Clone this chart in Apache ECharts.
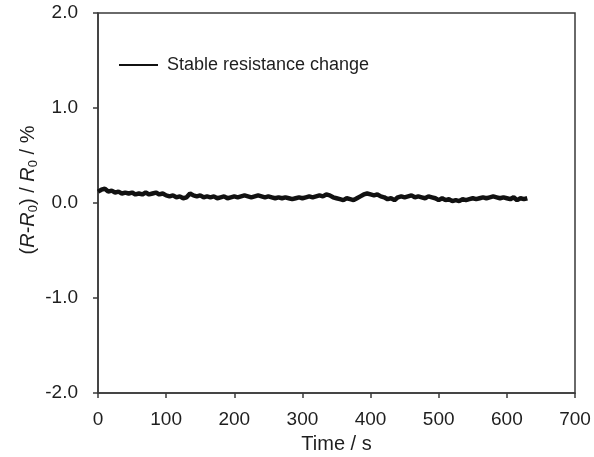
<!DOCTYPE html>
<html>
<head>
<meta charset="utf-8">
<style>
  html, body { margin: 0; padding: 0; background: #fff; }
  #chart { width: 594px; height: 457px; }
</style>
<script src="https://cdn.jsdelivr.net/npm/echarts@6/dist/echarts.min.js"></script>
</head>
<body>
<div id="chart"></div>
<script>
// time (s) and relative resistance change (%)
const times = [
  0, 5, 10, 15, 20, 25, 30, 35, 40, 45, 50, 55, 60, 65, 70, 75, 80, 85, 90, 95,
  100, 105, 110, 115, 120, 125, 130, 135, 140, 145, 150, 155, 160, 165, 170, 175, 180, 185, 190, 195,
  200, 205, 210, 215, 220, 225, 230, 235, 240, 245, 250, 255, 260, 265, 270, 275, 280, 285, 290, 295,
  300, 305, 310, 315, 320, 325, 330, 335, 340, 345, 350, 355, 360, 365, 370, 375, 380, 385, 390, 395,
  400, 405, 410, 415, 420, 425, 430, 435, 440, 445, 450, 455, 460, 465, 470, 475, 480, 485, 490, 495,
  500, 505, 510, 515, 520, 525, 530, 535, 540, 545, 550, 555, 560, 565, 570, 575, 580, 585, 590, 595,
  600, 605, 610, 615, 620, 625, 630
]
const resistanceChange = [
  0.12, 0.14, 0.15, 0.12, 0.13, 0.11, 0.12, 0.10, 0.11, 0.10, 0.11, 0.09, 0.10, 0.09, 0.11, 0.09, 0.10, 0.11, 0.09, 0.10,
  0.08, 0.07, 0.08, 0.06, 0.07, 0.05, 0.06, 0.10, 0.08, 0.07, 0.08, 0.06, 0.07, 0.06, 0.07, 0.05, 0.06, 0.07, 0.05, 0.06,
  0.07, 0.06, 0.07, 0.08, 0.07, 0.06, 0.07, 0.08, 0.07, 0.06, 0.07, 0.06, 0.05, 0.06, 0.05, 0.06, 0.05, 0.04, 0.05, 0.06,
  0.05, 0.06, 0.07, 0.06, 0.07, 0.08, 0.07, 0.09, 0.08, 0.06, 0.05, 0.04, 0.03, 0.05, 0.04, 0.03, 0.05, 0.07, 0.09, 0.10,
  0.09, 0.08, 0.09, 0.07, 0.06, 0.04, 0.05, 0.03, 0.06, 0.07, 0.06, 0.07, 0.08, 0.06, 0.07, 0.06, 0.05, 0.07, 0.06, 0.05,
  0.03, 0.05, 0.03, 0.04, 0.02, 0.03, 0.02, 0.04, 0.03, 0.04, 0.05, 0.04, 0.05, 0.06, 0.05, 0.06, 0.07, 0.06, 0.05, 0.06,
  0.05, 0.04, 0.06, 0.03, 0.05, 0.04, 0.05
]
const xTicks = [0, 700, 100]   // min, max, interval
const yTicks = [-2, 2, 1]

const font = 'Liberation Sans, Arial, sans-serif'
const axisColor = '#3a3a3a'
const textColor = '#1e1e1e'

const chart = echarts.init(document.getElementById('chart'))

const option = {
  animation: false,
  backgroundColor: '#fff',
  grid: {
    left: 98, right: 19, top: 13, bottom: 64,
    outerBoundsMode: 'none',
    show: true, borderColor: axisColor, borderWidth: 1.5
  },
  legend: {
    left: 114,
    top: 51,
    icon: 'rect',
    itemWidth: 39,
    itemHeight: 2,
    itemGap: 8,
    textStyle: { fontFamily: font, fontSize: 18, color: textColor, padding: [0, 0, 0, 4] },
    data: ['Stable resistance change']
  },
  graphic: [{
    type: 'text',
    x: 28,
    y: 190,
    rotation: Math.PI / 2,
    style: {
      text: '({i|R}-{i|R}{s|0}) / {i|R}{s|0} / %',
      fontFamily: font,
      fontSize: 20,
      fill: textColor,
      align: 'center',
      verticalAlign: 'middle',
      rich: {
        i: { fontFamily: font, fontSize: 20, fontStyle: 'italic', fill: textColor },
        s: { fontFamily: font, fontSize: 13, fill: textColor, verticalAlign: 'bottom', padding: [10, 0, 0, 0] }
      }
    }
  }],
  xAxis: {
    type: 'value',
    min: xTicks[0],
    max: xTicks[1],
    interval: xTicks[2],
    name: 'Time / s',
    nameLocation: 'middle',
    nameGap: 41,
    nameTextStyle: { fontFamily: font, fontSize: 20, color: textColor },
    axisLine: { onZero: false, lineStyle: { color: axisColor, width: 1.5 } },
    axisTick: { inside: false, length: 5, lineStyle: { color: axisColor, width: 1.5 } },
    axisLabel: { fontFamily: font, fontSize: 19, color: textColor, margin: 17 },
    splitLine: { show: false }
  },
  yAxis: {
    type: 'value',
    min: yTicks[0],
    max: yTicks[1],
    interval: yTicks[2],
    axisLine: { onZero: false, lineStyle: { color: axisColor, width: 1.5 } },
    axisTick: { inside: false, length: 5, lineStyle: { color: axisColor, width: 1.5 } },
    axisLabel: {
      fontFamily: font, fontSize: 19, color: textColor, margin: 20,
      formatter: v => v.toFixed(1)
    },
    splitLine: { show: false }
  },
  series: [{
    name: 'Stable resistance change',
    type: 'line',
    data: times.map((t, i) => [t, resistanceChange[i]]),
    showSymbol: false,
    symbol: 'none',
    lineStyle: { color: '#111', width: 4.5 },
    itemStyle: { color: '#111' }
  }]
}

chart.setOption(option)
</script>
</body>
</html>
